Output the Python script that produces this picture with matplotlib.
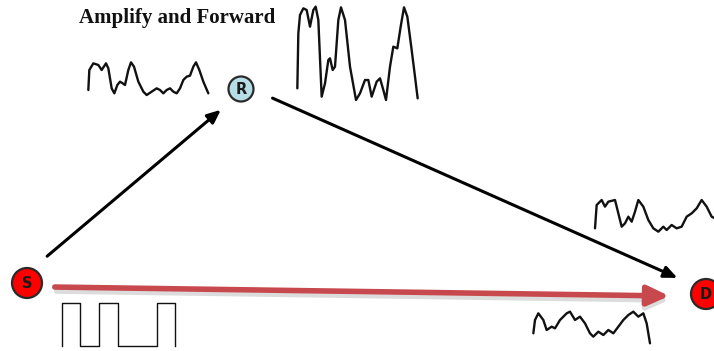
import numpy as np
import matplotlib.pyplot as plt
from matplotlib.patches import Circle, FancyArrowPatch

W, H = 714, 351

# node labels and positions (pixel space, y down)
node_names = ["S", "R", "D"]
node_xy = [(27, 283), (241, 89), (706, 294)]
node_r = [15, 12.5, 15]
node_colors = ["#ff0000", "#b7dde6", "#ff0000"]

title = "Amplify and Forward"

# waveform 1: received at relay (left of R), traced in 3x zoom coords
w1_z = [(25, 105), (28, 45), (40, 25), (55, 30), (65, 45), (78, 25), (85, 40),
        (95, 100), (103, 115), (112, 90), (120, 80), (128, 85), (135, 90),
        (145, 45), (153, 22), (162, 35), (175, 80), (190, 110), (200, 120),
        (215, 110), (230, 100), (240, 105), (250, 115), (260, 105), (270, 100),
        (280, 110), (290, 115), (300, 100), (310, 75), (320, 65), (330, 62),
        (340, 35), (348, 22), (358, 45), (370, 80), (385, 115)]
w1_x = [80 + a / 3 for a, b in w1_z]
w1_y = [55 + b / 3 for a, b in w1_z]

# waveform 2: amplified signal (right of R)
w2_z = [(52, 265), (55, 100), (60, 45), (70, 25), (80, 30), (90, 80), (100, 30),
        (107, 20), (115, 60), (125, 290), (135, 250), (145, 180), (150, 175),
        (158, 210), (165, 200), (175, 60), (183, 22), (195, 60), (210, 200),
        (228, 300), (240, 280), (255, 240), (265, 240), (275, 290), (290, 245),
        (300, 235), (310, 270), (318, 300), (330, 200), (340, 140), (352, 145),
        (362, 80), (372, 22), (382, 50), (395, 150), (405, 230), (413, 295)]
w2_x = [280 + a / 3 for a, b in w2_z]
w2_y = [b / 3 for a, b in w2_z]

# waveform 3: relayed signal at destination (upper)
w3_z = [(225, 145), (230, 75), (245, 60), (255, 80), (265, 65), (285, 60),
        (295, 100), (305, 140), (315, 130), (325, 110), (335, 125), (345, 95),
        (355, 60), (370, 80), (385, 120), (400, 145), (415, 155), (430, 140),
        (440, 150), (455, 135), (470, 145), (485, 140), (500, 110), (515, 100),
        (530, 85), (545, 60), (560, 80), (575, 110), (585, 115)]
w3_x = [520 + a / 3 for a, b in w3_z]
w3_y = [180 + b / 3 for a, b in w3_z]

# waveform 4: direct signal at destination (lower)
w4_z = [(40, 460), (45, 420), (55, 400), (70, 420), (80, 450), (95, 440),
        (105, 445), (120, 420), (140, 400), (150, 395), (165, 420), (180, 410),
        (195, 430), (210, 460), (220, 470), (235, 455), (250, 465), (265, 450),
        (280, 460), (295, 440), (310, 420), (325, 405), (340, 395), (355, 410),
        (370, 400), (380, 430), (390, 490)]
w4_x = [520 + a / 3 for a, b in w4_z]
w4_y = [180 + b / 3 for a, b in w4_z]

# source bits (square wave)
sq_x = [62, 62, 80, 80, 99, 99, 118, 118, 157, 157, 175, 175]
sq_y = [346, 303, 303, 346, 346, 303, 303, 346, 346, 303, 303, 346]

fig = plt.figure(figsize=(W / 100, H / 100), dpi=100)
ax = fig.add_axes([0, 0, 1, 1])
ax.set_xlim(0, W)
ax.set_ylim(H, 0)
ax.axis("off")

# direct link (red, with faint shadow underneath)
red_style = "-|>,head_length=13,head_width=6"
ax.add_patch(FancyArrowPatch((54, 291), (672, 300), arrowstyle=red_style,
                             color="#dcdcdc", lw=4, mutation_scale=1, zorder=1))
ax.add_patch(FancyArrowPatch((52, 287), (672, 296), arrowstyle=red_style,
                             color="#c8494d", lw=4, mutation_scale=1, zorder=2))

# relay links
blk_style = "-|>,head_length=8,head_width=3.5"
ax.add_patch(FancyArrowPatch((45, 258), (223, 108), arrowstyle=blk_style,
                             color="black", lw=2.2, mutation_scale=1, zorder=2))
ax.add_patch(FancyArrowPatch((270, 97), (680, 279), arrowstyle=blk_style,
                             color="black", lw=2.2, mutation_scale=1, zorder=2))

for name, (x, y), r, c in zip(node_names, node_xy, node_r, node_colors):
    ax.add_patch(Circle((x, y), r, facecolor=c, edgecolor="#2a2a2a", lw=1.6, zorder=3))
    ax.text(x, y + 0.5, name, ha="center", va="center", fontsize=10.5, fontweight="bold",
            family="DejaVu Sans", color="#1a1a1a", zorder=4)

for xs, ys in [(w1_x, w1_y), (w2_x, w2_y), (w3_x, w3_y), (w4_x, w4_y)]:
    ax.plot(xs, ys, color="#111111", lw=1.7, solid_joinstyle="round",
            solid_capstyle="round", zorder=2)

ax.plot(sq_x, sq_y, color="#111111", lw=1.0, zorder=2)

ax.text(177, 18, title, ha="center", va="center", fontsize=15, fontweight="bold",
        family="Liberation Serif", color="#111111")

fig.savefig("out.png", dpi=100)
